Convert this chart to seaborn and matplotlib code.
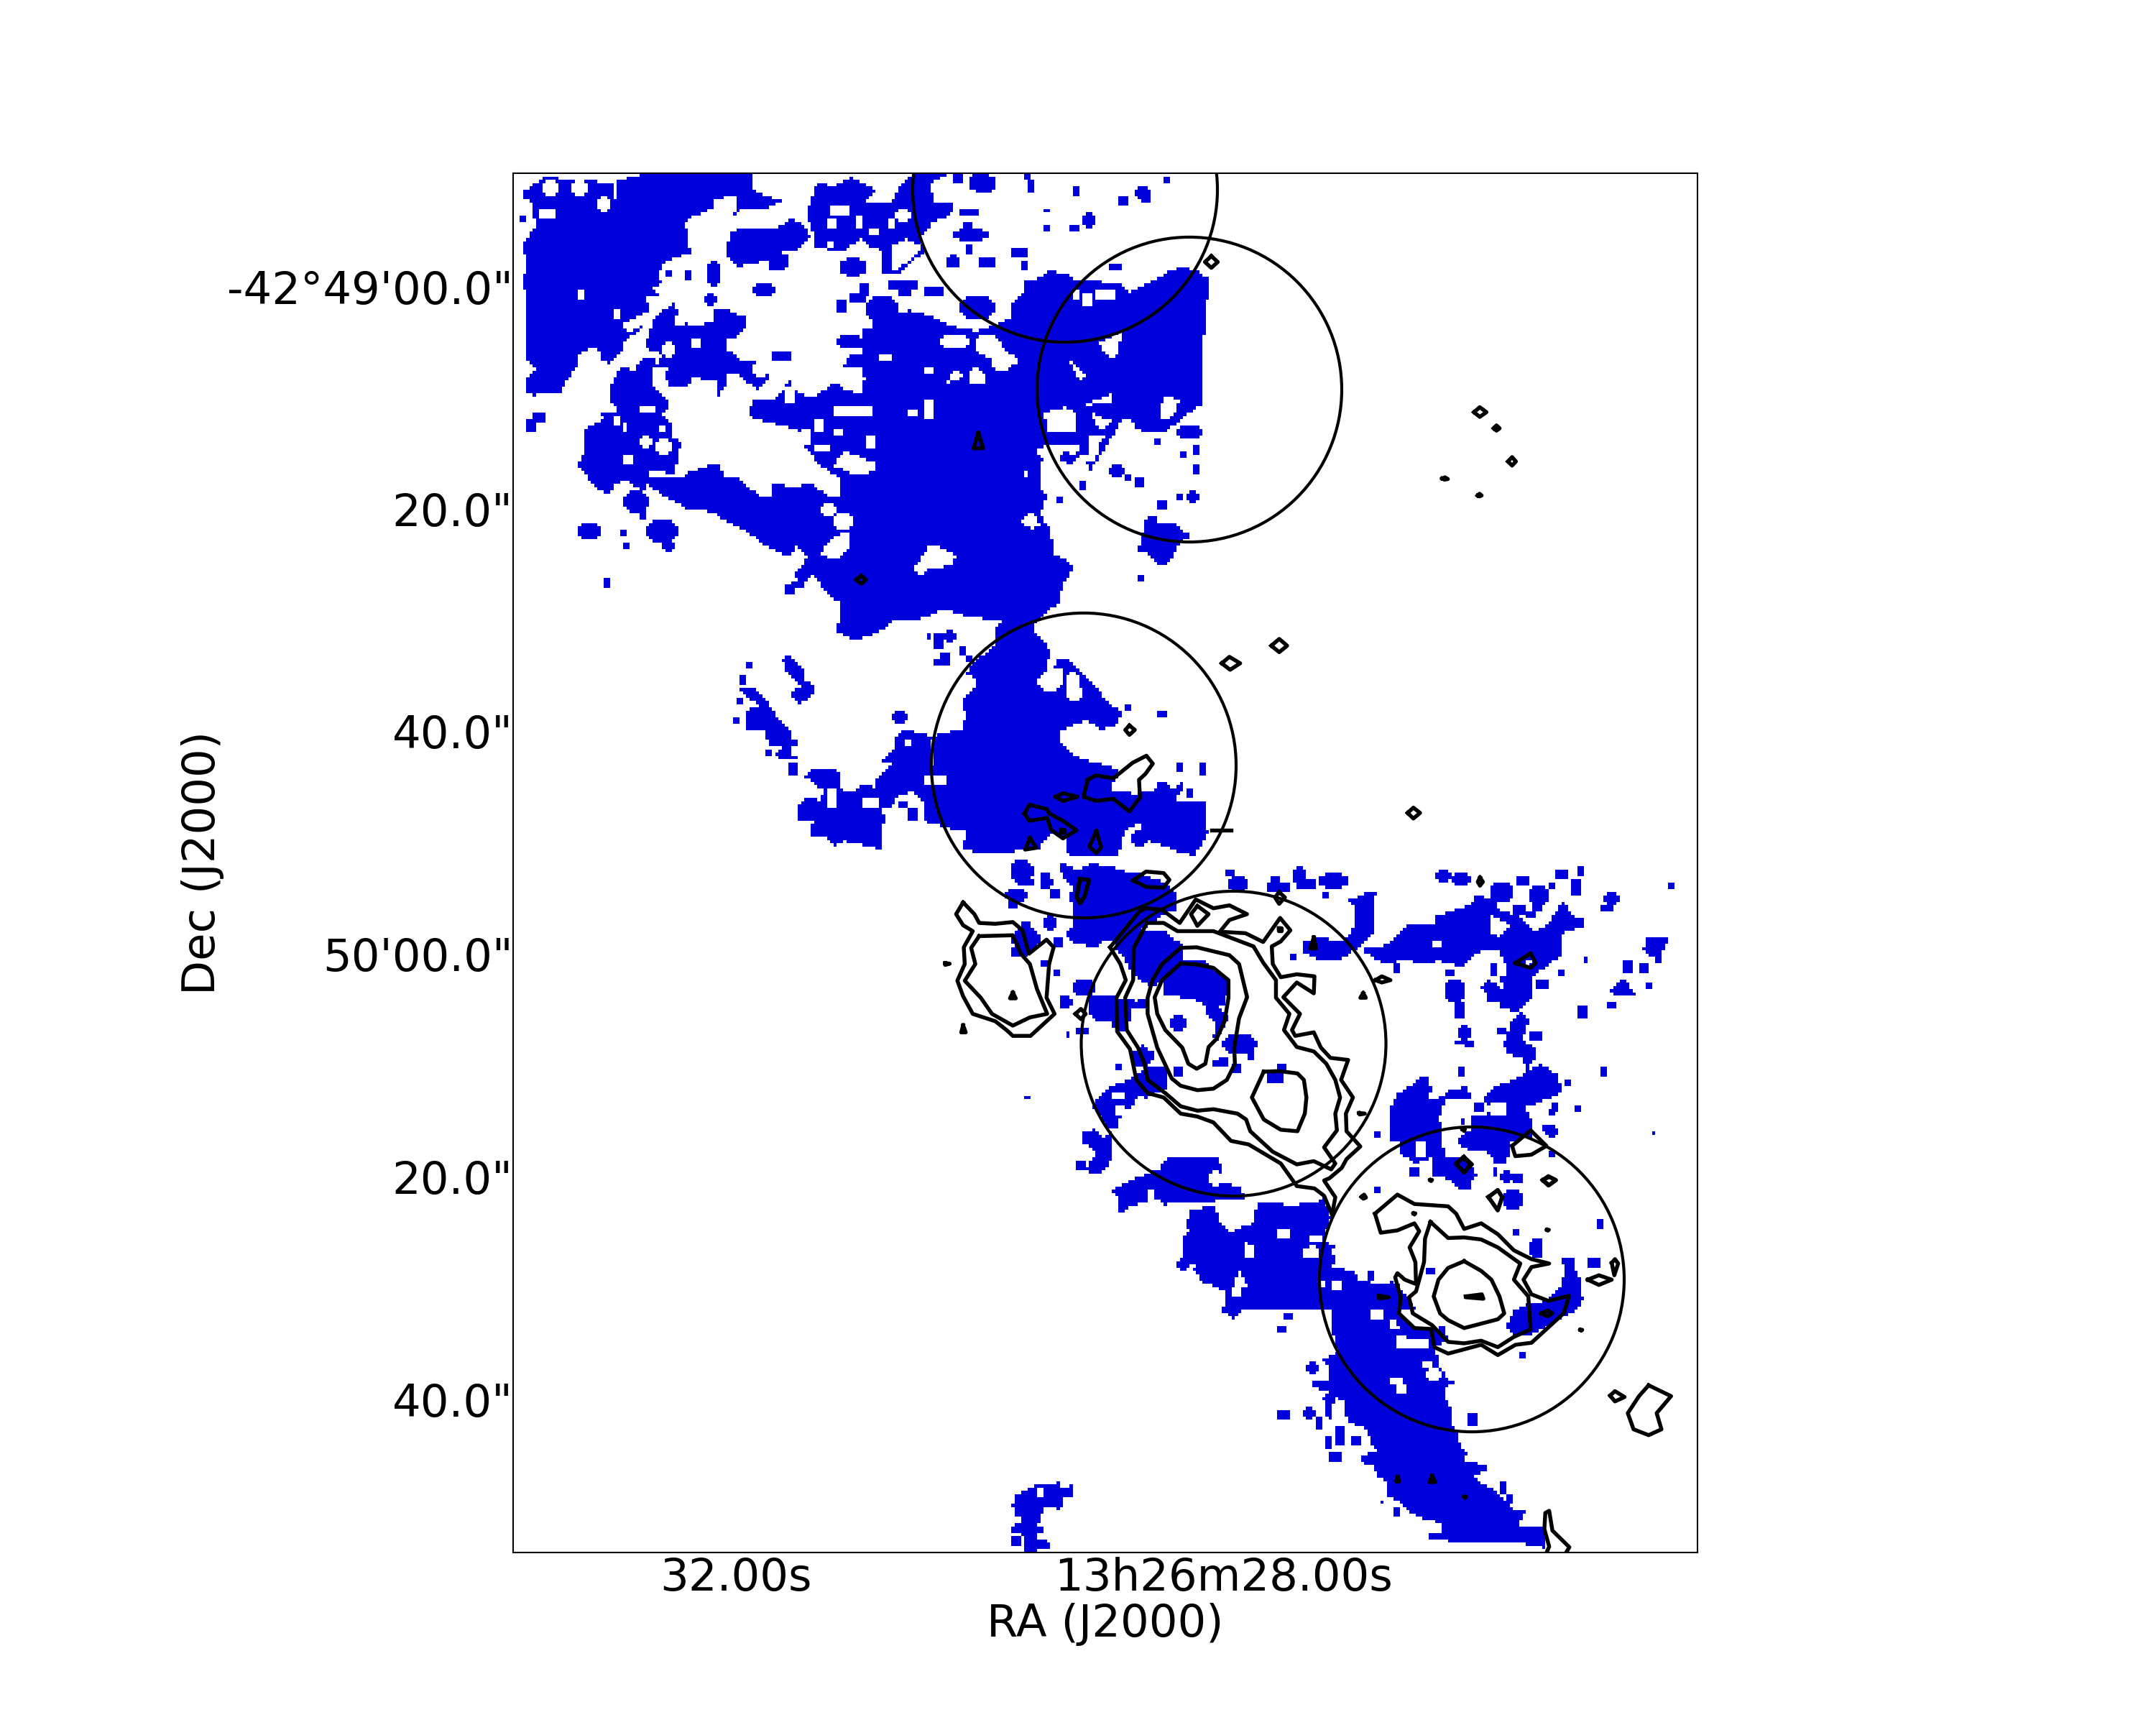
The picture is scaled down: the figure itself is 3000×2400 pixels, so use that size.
import numpy as np
import matplotlib
matplotlib.use("Agg")
import matplotlib.pyplot as plt
from matplotlib.colors import ListedColormap
from matplotlib.patches import Circle
from matplotlib.path import Path
import seaborn as sns

crops = {"a": (714, 240, 2.24, 2.45), "b": (1240, 240, 2.24, 2.45), "c": (980, 840, 2.24, 2.45),
         "d": (1300, 1180, 2.24, 2.45), "e": (1700, 1180, 2.24, 2.45), "f": (1640, 1560, 2.24, 2.45),
         "g": (1680, 540, 3.0, 2.45), "h": (1370, 2040, 3.0, 3.0)}

ra_ticks = [1024, 1703]
ra_labels = ["32.00s", "13h26m28.00s"]
dec_ticks = [399, 708.6, 1018, 1328, 1637, 1947]
dec_labels = ["-42°49'00.0\"", "20.0\"", "40.0\"", "50'00.0\"", "20.0\"", "40.0\""]

circle_x = [1482, 1655, 1508, 1716.5, 2048]
circle_y = [264, 542, 1065, 1452, 1780]
circle_r = [212, 212, 212, 212, 212]

blue_a = [
    [(35,60),(100,15),(310,35),(318,95),(324,30),(400,5),(745,5),(745,55),(775,75),(835,95),(780,125),(700,130),(680,170),(700,100),(695,75),(630,90),(620,125),(560,150),(535,170),(555,280),(510,285),(465,315),(450,360),(465,380),(430,395),(455,420),(410,425),(430,470),(385,495),(340,515),(360,545),(430,510),(345,575),(340,610),(300,650),(270,640),(270,610),(240,595),(205,620),(205,660),(170,700),(150,750),(60,760),(40,745),(40,700),(70,670),(50,640),(30,630),(45,620),(45,570),(35,400),(35,350),(40,300),(30,250),(60,190),(75,180),(60,150),(65,105),(35,90)],
    [(675,200),(760,185),(820,190),(870,155),(920,195),(925,225),(880,265),(830,265),(860,290),(850,330),(800,330),(790,300),(700,320),(665,280)],
    [(915,140),(950,30),(1000,50),(1050,15),(1130,60),(1090,105),(1140,100),(1240,110),(1250,60),(1210,40),(1250,5),(1350,5),(1300,30),(1310,100),(1365,100),(1360,150),(1290,160),(1270,215),(1280,270),(1250,300),(1200,350),(1150,345),(1130,280),(1085,225),(1030,265),(945,260),(930,190)],
    [(440,500),(500,440),(520,490),(560,525),(620,510),(625,470),(665,465),(725,495),(730,525),(700,560),(670,570),(670,605),(710,640),(770,640),(800,700),(760,740),(710,700),(660,730),(640,760),(630,710),(560,700),(540,730),(490,730),(470,700),(480,670),(440,660),(470,620),(410,600),(420,560)],
    [(300,740),(320,690),(345,660),(385,680),(390,640),(445,630),(430,720),(470,765),(490,790),(465,825),(495,855),(495,900),(525,925),(510,975),(530,1020),(410,1040),(410,1090),(350,1050),(320,1060),(295,1100),(240,1060),(215,1010),(200,1000),(220,960),(225,870),(280,840),(270,815),(330,820),(305,780)],
    [(1120,540),(1170,530),(1200,480),(1280,480),(1340,510),(1420,540),(1568,560),(1568,1568),(1010,1568),(1020,1470),(965,1420),(950,1380),(890,1350),(920,1320),(885,1270),(860,1310),(800,1280),(720,1220),(650,1180),(640,1170),(600,1155),(540,1145),(480,1110),(440,1080),(410,1060),(410,1030),(490,1040),(640,990),(655,1035),(700,1040),(775,1110),(800,1110),(810,1065),(880,1070),(930,1060),(990,1110),(1020,1110),(1020,1040),(985,1020),(950,990),(900,920),(890,880),(790,850),(730,830),(750,775),(820,770),(860,710),(880,745),(930,770),(1000,720),(1080,740),(1090,660),(1030,660),(1050,625),(1095,620),(1080,590),(1090,560)],
]
holes_a = [
    [(1250,1350),(1300,1270),(1345,1280),(1380,1310),(1370,1340),(1290,1350),(1270,1380)],
    [(955,1300),(1000,1240),(1050,1220),(1050,1280),(1010,1320)],
    [(1000,1000),(1030,950),(1130,990),(1130,1020),(1060,1030)],
    [(1360,700),(1400,680),(1400,700),(1355,715)],
    [(1420,720),(1440,660),(1470,690),(1470,725)],
    [(1140,1568),(1190,1520),(1250,1530),(1345,1490),(1400,1510),(1520,1530),(1500,1568)],
    [(1030,720),(1060,690),(1095,700),(1085,750),(1030,745)],
]
gaps_a = [(95,35,140,70),(90,125,125,150),(205,410,220,430),(270,90,300,130),(190,30,230,70),(315,475,330,490),
          (395,800,435,810),(455,865,465,880),(395,905,430,940),(445,910,485,960),(350,970,372,990),(345,860,353,885),
          (320,840,330,855),(510,1000,530,1035),(430,1020,465,1030),(985,160,1005,185),(1070,155,1085,185),
          (990,120,1040,135),(1170,160,1185,180),(1195,130,1240,160),(1115,200,1135,210),(980,235,990,250),
          (1190,255,1210,285),(1110,260,1140,340),(1345,565,1395,585),(1450,560,1510,610),(1500,640,1545,670),
          (1000,800,1110,820),(940,845,960,885),(1105,900,1120,935),(1000,875,1020,890),(905,880,925,925),
          (470,585,500,625),(510,490,525,515),(555,575,575,590),(675,690,705,710),(750,650,790,690),(850,740,870,780),
          (940,930,985,945),(1285,780,1305,835),(1235,815,1255,830),(1140,625,1180,640),(1290,665,1305,680),
          (960,1130,1005,1170),(1000,1170,1050,1210),(480,1340,500,1350)]
islets_a = [(30,150,40,162),(65,820,100,850),(50,850,70,875),(210,1205,265,1245),(335,1220,345,1235),(350,1268,358,1280),
            (420,1190,510,1260),(470,1260,500,1285),(350,1085,415,1155),(395,1160,410,1180),(290,1390,298,1408),
            (855,1410,870,1435),(875,1395,905,1415),(885,1350,920,1385),(910,1320,930,1350),(750,380,810,420),
            (605,420,630,450),(815,610,860,640),(480,340,492,352),(535,335,548,360),(610,310,640,385),(1080,380,1100,415),
            (1055,415,1090,440),(1010,440,1030,475),(1105,425,1200,500),(1125,500,1170,525),(1010,560,1085,590),
            (1090,540,1140,565),(1170,370,1260,395),(1205,395,1240,420),(1290,395,1305,415),(1315,395,1340,420),
            (1400,130,1445,145),(1380,195,1475,225),(1405,175,1430,195),(1355,280,1385,320),(1455,295,1495,320),
            (1415,255,1428,278),(1430,5,1495,60),(1375,5,1395,25),(1400,425,1500,490),(1020,300,1090,350)]

blue_b = [
    [(0,500),(50,470),(100,480),(120,490),(180,530),(270,540),(320,520),(370,500),(375,445),(410,410),(415,365),(470,360),(490,335),(550,345),(560,360),(720,380),(745,410),(830,360),(860,340),(910,320),(960,340),(990,365),(978,530),(965,640),(970,790),(940,810),(860,880),(780,880),(720,840),(690,900),(620,1020),(600,960),(560,1000),(500,960),(470,990),(465,1080),(485,1100),(465,1170),(495,1210),(510,1300),(570,1340),(540,1400),(520,1470),(480,1500),(430,1568),(0,1568)],
    [(780,1240),(795,1180),(830,1170),(830,1195),(880,1195),(935,1240),(895,1265),(880,1310),(850,1340),(820,1330),(800,1300),(765,1285),(780,1270)],
    [(30,40),(75,5),(175,5),(120,40),(130,110),(190,100),(190,135),(130,170),(105,210),(70,225),(45,275),(0,340),(0,110)],
]
holes_b = [
    [(260,590),(290,570),(330,565),(360,610),(395,630),(395,650),(350,675),(320,640),(260,610)],
    [(175,700),(200,675),(225,690),(200,715)],
    [(240,690),(265,655),(295,725),(240,725)],
    [(650,580),(720,540),(700,635),(675,630)],
    [(555,640),(605,690),(590,710)],
    [(610,790),(690,755),(690,780),(615,795)],
    [(475,820),(545,800),(580,820),(575,880),(520,885),(490,880)],
    [(835,800),(860,760),(895,780),(880,830),(845,850)],
    [(625,820),(690,850),(660,880),(640,865)],
    [(710,870),(735,835),(780,890),(740,910),(720,880)],
    [(410,1040),(425,1005),(430,1050)],
    [(405,1190),(435,1150),(465,1200),(440,1215)],
    [(0,250),(50,225),(95,255),(60,300),(0,340)],
    [(445,950),(480,930),(585,925),(580,965),(540,950),(520,975),(470,975)],
    [(620,900),(680,890),(645,930),(640,990),(610,980)],
]
gaps_b = [(160,560,240,590),(570,410,585,430),(600,420,625,450),(645,410,690,430)]
islets_b = [(200,5,215,25),(255,5,300,30),(265,30,315,65),(420,5,430,20),(430,30,445,60),(575,50,585,70),(710,80,730,105),
            (765,55,805,80),(785,80,800,95),(850,20,860,35),(480,125,487,133),(480,190,487,195),(600,140,630,180),
            (560,180,585,200),(205,200,300,225),(225,130,270,145),(240,260,250,278),(180,290,205,320),(280,295,320,320),
            (385,265,425,285),(410,310,425,325),(680,318,710,330),(680,1000,725,1030),(730,1030,745,1045),(765,1040,780,1068),
            (900,955,915,968),(945,1000,960,1020),(945,940,958,955),(895,1100,905,1112),(920,1090,950,1125),
            (830,1125,855,1140),(825,910,835,922),(590,1060,605,1075),(520,1115,535,1128),(770,1378,780,1386),(895,870,965,905)]

blue_c = [
    [(240,185),(270,180),(310,220),(315,260),(350,285),(330,320),(295,340),(265,300),(305,285),(260,240)],
    [(115,285),(160,285),(200,340),(225,380),(270,430),(270,460),(295,460),(295,485),(270,490),(265,510),(290,520),(285,535),(230,535),(225,510),(240,490),(200,480),(185,430),(130,430),(135,360),(170,350),(115,300)],
    [(315,590),(345,560),(415,560),(430,640),(470,640),(490,620),(530,625),(540,590),(590,540),(545,540),(590,500),(600,445),(630,430),(705,450),(720,750),(690,740),(690,690),(650,640),(600,660),(585,695),(555,700),(565,740),(550,765),(550,840),(490,820),(440,810),(405,825),(380,790),(330,790),(330,765),(350,740),(295,735),(290,690),(320,660),(365,670),(365,650),(385,640),(350,620)],
    [(820,230),(850,190),(880,170),(905,140),(905,95),(930,50),(1000,80),(1050,110),(1085,180),(1065,190),(1070,240),(1045,260),(1060,290),(1100,290),(1090,210),(1110,185),(1140,190),(1190,250),(1220,280),(1260,340),(1300,370),(1290,410),(1240,430),(1190,395),(1105,440),(1105,470),(1150,520),(1230,545),(1290,565),(1290,640),(1400,640),(1420,600),(1460,630),(1490,610),(1500,620),(1465,660),(1490,680),(1560,670),(1568,780),(1530,860),(1480,850),(1440,830),(1390,810),(1350,745),(1320,770),(1300,800),(1300,830),(1280,865),(1130,855),(1130,800),(1080,780),(1040,840),(890,850),(800,840),(820,780),(760,765),(720,750),(710,450),(770,435),(800,430),(815,380),(800,340),(830,300),(855,265),(820,240)],
    [(1105,890),(1125,885),(1160,910),(1210,885),(1270,895),(1310,910),(1370,920),(1450,960),(1475,990),(1475,1040),(1430,1060),(1380,1100),(1290,1160),(1260,1140),(1220,1170),(1155,1160),(1125,1125),(1150,1100),(1150,1050),(1140,1000),(1150,970),(1120,940)],
    [(420,0),(1100,0),(1055,40),(1020,75),(930,50),(880,45),(810,50),(760,20),(745,30),(780,70),(770,130),(755,125),(760,75),(730,65),(700,120),(660,55),(620,40),(590,50),(600,85),(570,95),(545,70),(525,105),(460,125),(420,90)],
]
holes_c = [
    [(1265,610),(1290,590),(1340,560),(1380,530),(1395,545),(1350,600),(1355,650),(1300,640),(1270,635)],
    [(1035,265),(1065,225),(1120,220),(1115,270),(1095,295),(1060,295)],
]
gaps_c = [(390,640,410,690),(500,665,535,685),(690,590,750,615),(625,465,640,485),(1132,240,1160,290),(1130,285,1170,325)]
islets_c = [(132,200,145,218),(92,388,110,402),(112,250,125,275),(105,322,118,342),(265,545,285,575),(195,503,208,515),
            (965,880,1000,945),(985,940,1020,950),(1055,925,1075,970),(945,975,1005,1005),(950,1005,975,1030),
            (1085,975,1100,995),(1065,1060,1090,1105),(990,1085,1015,1110),(960,1110,1040,1175),(960,1180,1000,1195),
            (1095,1140,1115,1160),(1050,1215,1070,1235),(1090,1255,1103,1268),(1110,1340,1140,1370),(1155,1290,1210,1330),
            (1315,345,1325,358),(1415,365,1438,380),(1475,550,1490,570),(1545,550,1560,575),(1505,640,1520,660),
            (592,365,632,400),(720,110,745,150),(750,90,780,130),(720,190,765,205),(745,170,765,190),(800,150,810,175),
            (820,185,835,198),(610,680,630,695),(635,700,660,735),(690,690,735,740),(1340,780,1375,820)]

blue_d = [
    [(555,335),(620,285),(720,280),(770,330),(775,385),(830,380),(870,405),(915,450),(915,480),(905,530),(880,540),(920,570),(910,600),(880,660),(868,640),(880,600),(845,565),(850,540),(800,510),(715,505),(715,460),(670,470),(620,435),(600,400),(590,370)],
    [(480,505),(560,505),(630,520),(660,510),(665,550),(620,545),(600,620),(560,620),(550,590),(500,585),(480,560)],
    [(610,700),(650,670),(685,700),(680,725),(660,750),(620,740)],
    [(610,790),(665,740),(720,745),(730,790),(720,820),(660,855),(620,830)],
    [(510,855),(545,815),(605,790),(640,830),(620,880),(580,905),(575,955),(540,955),(510,900),(495,890)],
    [(460,965),(500,960),(525,990),(550,960),(548,1080),(525,1105),(480,1110),(475,1090),(505,1040),(490,1020),(460,1010)],
    [(700,1095),(720,1060),(890,1050),(895,1140),(960,1160),(965,1195),(930,1200),(860,1205),(820,1210),(720,1215),(685,1190),(680,1160),(665,1160),(670,1200),(600,1225),(585,1250),(570,1235),(575,1200),(550,1170),(580,1150),(620,1130)],
    [(1010,1210),(1180,1220),(1215,1190),(1235,1260),(1200,1340),(1245,1350),(1240,1430),(1310,1440),(1320,1470),(1340,1490),(1440,1480),(1500,1568),(900,1568),(910,1490),(830,1460),(830,1430),(775,1380),(780,1330),(815,1300),(785,1280),(800,1230),(890,1270),(890,1310),(930,1320),(960,1315),(1000,1270)],
    [(1150,320),(1210,305),(1270,320),(1300,290),(1330,200),(1290,180),(1340,155),(1375,145),(1370,290),(1330,325),(1290,360),(1240,375),(1200,385),(1150,355)],
]
holes_d = [
    [(965,1395),(980,1350),(1005,1360),(990,1405)],
    [(945,1450),(990,1500),(930,1490)],
]
gaps_d = [(865,1100,890,1150),(1150,1370,1190,1390),(1075,1300,1100,1325),(1240,1480,1268,1505),(555,835,590,855),(565,885,585,905)]
islets_d = [(740,575,780,615),(905,640,1005,700),(985,700,997,720),(875,730,890,745),(895,715,912,740),(935,740,955,765),
            (755,755,768,768),(1040,775,1085,790),(1075,735,1090,755),(440,465,490,500),(460,460,480,470),(395,505,420,540),
            (450,620,475,635),(415,632,420,638),(445,1072,465,1095),(285,845,292,852),(570,740,576,746),(765,1400,795,1430),
            (250,45,305,115),(340,95,362,135),(925,95,970,140),(915,80,930,92),(1040,125,1100,145),(1055,95,1068,108),
            (1120,70,1150,125),(1135,110,1185,130),(1205,85,1280,135),(1210,150,1228,168),(1110,360,1128,372),(1435,400,1450,420)]

blue_e = [
    [(395,175),(480,145),(475,285),(440,320),(420,345),(375,375),(340,385),(300,370),(285,310),(370,320),(410,290),(410,200)],
    [(445,340),(520,330),(555,290),(580,255),(660,265),(665,230),(770,195),(800,155),(850,180),(870,215),(920,225),(980,285),(1020,260),(1060,180),(1105,240),(1130,235),(1130,265),(1060,290),(1060,360),(1020,400),(975,430),(965,510),(930,555),(960,590),(935,650),(985,690),(975,720),(950,760),(940,720),(890,700),(880,665),(905,590),(930,555),(865,550),(870,525),(830,525),(825,490),(805,480),(830,450),(880,480),(890,420),(875,370),(860,350),(790,355),(755,405),(680,385),(615,395),(555,375),(545,395),(480,385),(445,350)],
    [(550,835),(590,810),(615,780),(645,780),(655,830),(640,855),(680,850),(720,820),(770,815),(775,860),(695,860),(690,880),(675,925),(690,940),(690,1020),(700,1040),(700,1060),(650,1060),(600,1075),(555,1040),(555,1000),(520,1000),(520,905)],
    [(660,1060),(710,1060),(745,1050),(780,1080),(795,1115),(780,1140),(770,1170),(740,1170),(715,1130),(650,1115)],
    [(815,850),(855,810),(900,795),(995,735),(1050,775),(1060,825),(1035,850),(1000,860),(950,885),(955,915),(970,925),(970,985),(900,1000),(900,1040),(880,1080),(845,1080),(840,1040),(775,1030),(735,1010),(735,995),(775,960),(780,915),(835,905),(830,875)],
    [(1000,945),(1030,945),(1052,965),(1030,990),(1000,965)],
    [(1212,490),(1250,440),(1295,505),(1240,505)],
    [(1320,310),(1340,300),(1395,310),(1370,370),(1365,410),(1350,375),(1315,350)],
]
holes_e = [
    [(835,225),(860,240),(900,260),(870,300),(840,295)],
    [(955,375),(975,390),(950,400)],
]
gaps_e = [(615,1010,635,1045),(665,320,680,335),(830,870,860,910),(860,870,885,910)]
islets_e = [(672,78,712,108),(720,85,768,118),(840,125,900,175),(960,130,1010,190),(925,95,950,125),(1040,78,1070,95),
            (1110,72,1122,85),(1098,115,1118,150),(1200,155,1232,185),(1185,195,1212,215),(1400,118,1412,130),(910,200,940,220),
            (978,195,998,215),(958,225,970,237),(1025,125,1038,138),(1055,420,1062,435),(700,415,718,435),(838,400,855,430),
            (870,437,885,457),(985,450,1012,472),(700,450,755,520),(735,530,755,572),(1110,540,1130,572),(1205,528,1225,540),
            (1255,390,1280,420),(1310,395,1330,420),(1322,465,1337,480),(1130,380,1136,388),(738,610,775,648),(728,658,748,668),
            (762,658,780,678),(860,615,885,628),(965,632,997,657),(740,755,755,775),(1185,750,1197,768),(1075,790,1088,806),
            (1108,885,1115,898),(1345,968,1350,974),(480,975,490,988),(588,1090,615,1110),(795,870,810,890),(870,1105,905,1140),
            (915,1120,932,1140),(880,1165,932,1230),(850,1095,857,1110),(920,1300,928,1315),(970,1340,995,1390),
            (1175,1272,1185,1292),(1150,1400,1175,1422),(1035,870,1045,890),(1020,900,1032,910),(1022,1040,1032,1050),
            (750,925,755,940),(650,1432,657,1445),(480,1155,490,1170)]

blue_f = [
    [(10,400),(30,370),(25,340),(50,300),(110,285),(130,340),(165,380),(200,360),(240,350),(240,300),(410,280),(445,270),(470,320),(450,430),(490,460),(480,500),(550,510),(555,540),(630,555),(670,545),(680,600),(690,660),(730,700),(780,710),(830,700),(840,750),(800,770),(810,830),(840,880),(875,885),(830,910),(835,950),(855,1000),(850,1030),(870,1060),(880,1110),(905,1130),(885,1160),(960,1170),(965,1195),(920,1205),(945,1240),(970,1245),(1005,1280),(1040,1320),(1080,1330),(1060,1380),(1140,1380),(1140,1455),(1075,1440),(850,1440),(820,1420),(815,1370),(745,1350),(705,1320),(695,1300),(645,1280),(650,1235),(620,1210),(610,1180),(570,1160),(570,1140),(620,1120),(600,1100),(590,1060),(570,1040),(525,1030),(520,960),(490,940),(480,975),(480,1020),(462,1010),(460,960),(440,950),(470,920),(420,910),(420,885),(465,880),(465,830),(440,815),(470,800),(495,790),(480,720),(480,640),(440,620),(400,640),(380,640),(340,610),(330,575),(230,590),(220,630),(170,670),(135,650),(150,610),(140,575),(80,550),(45,510),(50,490),(10,470)],
    [(1190,460),(1235,465),(1240,515),(1255,550),(1260,610),(1235,650),(1205,665),(1130,710),(1090,730),(1050,730),(1020,700),(1050,640),(1085,625),(1150,610),(1190,560),(1205,510)],
]
holes_f = [
    [(180,520),(190,515),(215,560),(185,560)],
    [(205,415),(240,420),(235,470),(205,470)],
    [(390,430),(425,425),(425,460),(400,460)],
    [(655,670),(680,680),(690,710),(665,710)],
]
gaps_f = [(170,570,195,598),(315,370,340,390),(440,545,450,560),(480,550,505,572),(605,645,630,665),(680,740,700,770),
          (715,745,730,770),(745,745,775,770),(770,820,785,830),(780,850,815,880),(660,880,695,895),(685,905,705,920),(410,395,440,410)]
islets_f = [(400,825,435,860),(395,980,422,1010),(310,995,340,1012),(430,1015,445,1045),(460,1078,475,1112),(495,1050,515,1105),
            (545,1078,560,1105),(475,1138,498,1150),(670,1320,687,1342),(790,1405,812,1425),(630,1296,637,1302),(1008,1228,1020,1270),
            (1030,1275,1040,1295),(905,1002,930,1030),(335,660,352,672),(315,703,327,718),(1070,796,1077,803),(1285,470,1310,490),
            (1305,340,1318,362),(1048,370,1062,384),(1100,410,1130,460),(1480,38,1486,44),(598,520,606,535),(778,500,790,515)]

blue_h = [[(105,260),(140,240),(160,215),(132,210),(123,180),(115,160),(132,120),(170,100),(215,75),(290,80),(310,62),(318,90),(365,80),(365,130),(335,130),(327,175),(300,180),(280,165),(245,180),(235,225),(225,245),(250,260),(250,275),(225,285),(225,305),(272,315),(280,348),(250,350),(225,340),(220,358),(170,358),(160,345),(168,300),(150,285),(105,272)]]
gaps_h = [(225,100,234,120)]
islets_h = [(123,305,141,323)]

contours_a = [[(1450,888),(1465,940),(1435,940)], [(1085,1375),(1100,1388),(1085,1402),(1068,1388)]]
contours_b = [[(998,285),(1018,305),(998,325),(978,305)]]
contours_c = [
    [(1195,600),(1220,585),(1275,595),(1335,542),(1378,518),(1398,545),(1375,580),(1355,600),(1358,660),(1325,708),(1275,665),(1222,672),(1182,658)],
    [(1095,658),(1118,646),(1163,658),(1118,672)],
    [(998,715),(1013,685),(1068,700),(1075,715),(1118,740),(1160,772),(1118,800),(1082,772),(1068,730),(1013,740)],
    [(1015,798),(1035,832),(1000,838)],
    [(1222,775),(1237,830),(1222,850),(1200,828)],
    [(1112,770),(1122,770),(1122,780),(1112,780)],
    [(1170,938),(1200,942),(1185,1000),(1170,1020),(1160,1000)],
    [(1325,415),(1342,430),(1325,447),(1312,430)],
]
contours_d = [
    [(548,338),(640,215),(660,205),(710,210),(765,255),(815,175),(870,205),(920,195),(975,225),(920,245),(890,285),(970,290),(1025,320),(1078,238),(1110,280),(1080,318),(1052,335),(1055,395),(1080,440),(1130,430),(1185,437),(1183,495),(1130,458),(1088,508),(1140,565),(1115,620),(1125,640),(1183,628),(1205,680),(1235,715),(1290,722),(1268,790),(1305,850),(1283,905),(1285,965),(1328,1017),(1285,1060),(1270,1090),(1232,1125),(1215,1133),(1250,1190),(1240,1250),(1215,1185),(1185,1160),(1130,1152),(1080,1075),(980,1010),(925,998),(870,935),(820,915),(768,905),(715,850),(665,835),(630,790),(610,685),(570,625),(568,510),(597,450),(580,395)],
    [(663,255),(715,255),(758,283),(870,283),(995,335),(1025,390),(1065,450),(1065,510),(1107,565),(1090,620),(1130,678),(1183,693),(1222,735),(1250,790),(1265,850),(1250,905),(1255,962),(1215,1020),(1250,1075),(1237,1095),(1183,1067),(1130,1078),(1055,1035),(985,965),(972,925),(945,905),(870,890),(820,895),(768,880),(720,835),(665,790),(655,735),(635,680),(600,620),(595,510),(620,450),(622,340)],
    [(768,340),(818,338),(920,365),(950,395),(975,508),(950,580),(935,680),(937,735),(912,790),(870,820),(820,825),(768,810),(740,785),(695,680),(665,565),(665,510),(680,450),(710,395)],
    [(768,393),(820,397),(870,408),(917,450),(917,510),(905,590),(880,650),(855,678),(845,735),(818,752),(792,735),(773,680),(720,620),(695,565),(687,508),(710,450)],
    [(1027,762),(1075,760),(1132,768),(1152,790),(1160,850),(1155,905),(1132,965),(1080,960),(1027,925),(990,850)],
    [(820,197),(855,225),(820,265),(800,225)],
    [(1072,272),(1082,272),(1082,282),(1072,282)],
    [(90,185),(125,225),(140,255),(190,258),(245,252),(275,280),(295,360),(350,312),(372,338),(358,395),(350,510),(375,565),(300,640),(245,640),(225,620),(190,590),(120,565),(90,505),(72,452),(95,395),(92,338),(120,283),(90,263),(68,225)],
    [(140,300),(245,297),(270,360),(298,395),(320,480),(352,565),(298,577),(245,605),(180,565),(145,510),(95,452),(128,395),(115,340)],
    [(245,492),(254,512),(236,512)],
    [(90,604),(98,628),(84,628)],
    [(34,392),(48,394),(34,398)],
    [(620,110),(660,80),(715,85),(733,108),(715,135),(660,132)],
    [(455,105),(482,108),(468,165),(455,188),(445,165)],
    [(440,565),(457,548),(472,565),(457,583)],
    [(1075,150),(1093,168),(1075,190),(1062,168)],
    [(1375,450),(1395,437),(1422,450),(1395,458)],
    [(1183,304),(1190,342),(1172,342)],
    [(1337,494),(1345,510),(1328,510)],
    [(1324,903),(1342,905),(1326,908)],
]
contours_e = [
    [(915,392),(963,358),(978,392),(963,408)],
    [(805,100),(814,115),(805,128),(798,115)],
    [(755,1052),(780,1078),(755,1105),(730,1075)],
    [(1000,1132),(1018,1118),(1042,1132),(1018,1150)],
    [(832,1190),(860,1165),(875,1190),(860,1235)],
    [(905,1015),(963,962),(1012,1015),(965,1045),(915,1050)],
    [(750,958),(758,958),(755,964)],
]
contours_f = [
    [(612,315),(682,250),(735,282),(840,290),(865,315),(890,367),(943,348),(995,385),(1045,440),(1100,470),(1155,485),(1100,497),(1075,540),(1100,590),(1152,612),(1217,595),(1200,655),(1100,755),(1050,762),(995,797),(943,762),(840,792),(797,770),(787,708),(735,705),(687,655),(692,600),(675,532),(682,518),(705,540),(740,555),(738,480),(720,430),(750,375),(735,348),(682,372),(630,380)],
    [(785,343),(840,398),(890,396),(943,403),(995,430),(1065,485),(1045,540),(1090,597),(1097,710),(1045,735),(995,770),(943,748),(890,757),(840,752),(790,695),(730,655),(718,600),(740,580),(765,480),(768,400)],
    [(890,477),(943,510),(975,540),(1000,597),(1015,655),(995,675),(890,705),(840,678),(815,655),(795,597),(810,540),(840,500)],
    [(895,597),(945,590),(950,605),(895,600)],
    [(625,595),(655,600),(625,604)],
    [(1130,655),(1150,645),(1165,655),(1150,665)],
    [(570,258),(578,250),(584,260),(576,264)],
    [(732,314),(738,314),(735,318)],
    [(784,200),(790,200),(787,204)],
    [(683,1212),(688,1228),(678,1228)],
    [(790,1208),(800,1230),(782,1230)],
    [(890,1280),(896,1280),(893,1284)],
    [(1148,370),(1154,370),(1151,373)],
    [(1252,711),(1258,711),(1255,714)],
    [(1345,935),(1360,920),(1390,940),(1360,955)],
    [(1350,483),(1360,470),(1370,485),(1358,525)],
    [(1275,540),(1310,525),(1350,540),(1310,558)],
    [(885,125),(910,145),(890,175),(865,145)],
    [(1135,200),(1155,190),(1175,200),(1155,218)],
    [(965,258),(995,235),(1008,258),(995,303)],
    [(1465,900),(1535,937),(1490,995),(1505,1050),(1465,1070),(1418,1050),(1400,995),(1435,937)],
]
open_f = [[(1145,1475),(1155,1450),(1140,1390),(1143,1335),(1155,1328),(1165,1395),(1218,1452),(1205,1475)]]
contours_g = [
    [(1113,82),(1137,65),(1165,82),(1137,98)],
    [(1195,137),(1207,127),(1220,137),(1207,145)],
    [(1255,250),(1272,235),(1288,250),(1272,264)],
    [(980,308),(992,304),(1004,310),(990,312)],
    [(1128,366),(1136,360),(1145,366),(1136,369)],
    [(267,878),(300,855),(333,878),(300,900)],
    [(60,938),(92,916),(137,938),(95,960)],
    [(836,1448),(860,1430),(888,1448),(860,1467)],
]
open_g = [[(18,1506),(98,1506)]]

CELL = 4.5
AX_X0, AX_X1, AX_Y0, AX_Y1 = 714, 2362, 241, 2160
ncols = int(round((AX_X1 - AX_X0) / CELL))
nrows = int(round((AX_Y1 - AX_Y0) / CELL))
cell_x = (AX_X1 - AX_X0) / ncols
cell_y = (AX_Y1 - AX_Y0) / nrows


def to_cells(crop, pts):
    x0, y0, sx, sy = crops[crop]
    pts = np.array(pts, dtype=float)
    return np.column_stack([(x0 + pts[:, 0] / sx - AX_X0) / cell_x, (y0 + pts[:, 1] / sy - AX_Y0) / cell_y])


def fill_poly(grid, crop, pts, value):
    cells = to_cells(crop, pts)
    i0 = max(int(cells[:, 0].min()) - 1, 0)
    i1 = min(int(cells[:, 0].max()) + 2, ncols)
    j0 = max(int(cells[:, 1].min()) - 1, 0)
    j1 = min(int(cells[:, 1].max()) + 2, nrows)
    if i1 <= i0 or j1 <= j0:
        return
    xx, yy = np.meshgrid(np.arange(i0, i1) + 0.5, np.arange(j0, j1) + 0.5)
    inside = Path(cells).contains_points(np.column_stack([xx.ravel(), yy.ravel()])).reshape(xx.shape)
    grid[j0:j1, i0:i1][inside] = value


# patches read as a box are filled as the blob inside that box, tiny ones stay square
def fill_rect(grid, crop, rect, value):
    corners = to_cells(crop, [(rect[0], rect[1]), (rect[2], rect[3])])
    i0, j0 = np.floor(corners[0]).astype(int)
    i1, j1 = np.ceil(corners[1]).astype(int)
    i0, j0, i1, j1 = max(i0, 0), max(j0, 0), min(i1, ncols), min(j1, nrows)
    if i1 <= i0 or j1 <= j0:
        return
    if i1 - i0 < 4 or j1 - j0 < 4:
        grid[j0:j1, i0:i1] = value
        return
    xx, yy = np.meshgrid(np.arange(i0, i1) + 0.5, np.arange(j0, j1) + 0.5)
    u = (xx - (i0 + i1) / 2) / ((i1 - i0) / 2)
    v = (yy - (j0 + j1) / 2) / ((j1 - j0) / 2)
    grid[j0:j1, i0:i1][u ** 2 + v ** 2 <= 1.05] = value


mask = np.zeros((nrows, ncols), dtype=bool)
tables = [("a", blue_a, holes_a, gaps_a, islets_a), ("b", blue_b, holes_b, gaps_b, islets_b),
          ("c", blue_c, holes_c, gaps_c, islets_c), ("d", blue_d, holes_d, gaps_d, islets_d),
          ("e", blue_e, holes_e, gaps_e, islets_e), ("f", blue_f, holes_f, gaps_f, islets_f),
          ("h", blue_h, [], gaps_h, islets_h)]
for crop, blue, holes, gaps, islets in tables:
    for p in blue:
        fill_poly(mask, crop, p, True)
for crop, blue, holes, gaps, islets in tables:
    for p in holes:
        fill_poly(mask, crop, p, False)
    for r in gaps:
        fill_rect(mask, crop, r, False)
for crop, blue, holes, gaps, islets in tables:
    for r in islets:
        fill_rect(mask, crop, r, True)

fig = plt.figure(figsize=(10, 8), dpi=300)
ax = fig.add_axes([AX_X0 / 3000, 1 - AX_Y1 / 2400, (AX_X1 - AX_X0) / 3000, (AX_Y1 - AX_Y0) / 2400])
sns.heatmap(mask.astype(float), mask=~mask, cmap=ListedColormap(["#0000dc"]), cbar=False,
            xticklabels=False, yticklabels=False, ax=ax)

for crop, lines in [("a", contours_a), ("b", contours_b), ("c", contours_c), ("d", contours_d),
                    ("e", contours_e), ("f", contours_f), ("g", contours_g)]:
    for line in lines:
        xy = to_cells(crop, line + line[:1])
        sns.lineplot(x=xy[:, 0], y=xy[:, 1], sort=False, estimator=None, color="black", lw=1.3, ax=ax)
for crop, lines in [("f", open_f), ("g", open_g)]:
    for line in lines:
        xy = to_cells(crop, line)
        sns.lineplot(x=xy[:, 0], y=xy[:, 1], sort=False, estimator=None, color="black", lw=1.3, ax=ax)

for cx, cy, r in zip(circle_x, circle_y, circle_r):
    ax.add_patch(Circle(((cx - AX_X0) / cell_x, (cy - AX_Y0) / cell_y), r / cell_x, fill=False, ec="black", lw=1.0))

ax.set_xlim(0, ncols)
ax.set_ylim(nrows, 0)
for s in ax.spines.values():
    s.set_visible(True)
    s.set_linewidth(0.5)
    s.set_color("black")

ax.set_xticks([(t - AX_X0) / cell_x for t in ra_ticks])
ax.set_xticklabels(ra_labels, fontsize=15, rotation=0)
ax.set_yticks([(t - AX_Y0) / cell_y for t in dec_ticks])
ax.set_yticklabels(dec_labels, fontsize=15, rotation=0)
ax.tick_params(axis="x", length=0, pad=1.5)
ax.tick_params(axis="y", length=0, pad=0.1)
ax.set_xlabel("RA (J2000)", fontsize=15, labelpad=1)
ax.set_ylabel("Dec (J2000)", fontsize=15, labelpad=1)
# lineplot hides the labels while the ticks are still empty
ax.xaxis.label.set_visible(True)
ax.yaxis.label.set_visible(True)

fig.savefig("out.png", dpi=300)
